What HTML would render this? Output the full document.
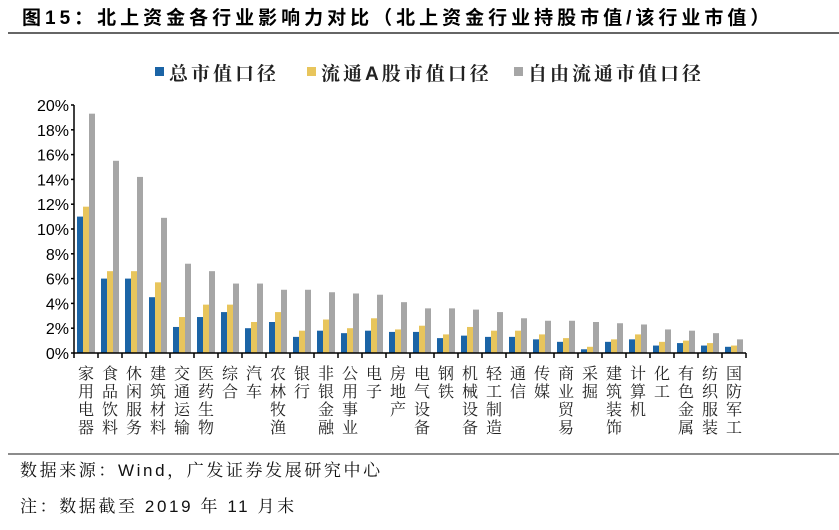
<!DOCTYPE html>
<html><head><meta charset="utf-8"><style>
body{margin:0;background:#fff;width:839px;height:525px;overflow:hidden;font-family:"Liberation Sans","Noto Sans CJK SC",sans-serif}
</style></head><body>
<svg width="839" height="525" xmlns="http://www.w3.org/2000/svg">
<text x="22" y="24" font-size="19" font-weight="bold" fill="#000" letter-spacing="4" font-family="Liberation Sans,Noto Sans CJK SC,sans-serif">图15：北上资金各行业影响力对比（北上资金行业持股市值/该行业市值）</text>
<line x1="8" y1="33" x2="839" y2="33" stroke="#333" stroke-width="1.5"/>
<g id="legend"></g>
<g id="yaxis"></g>
<g id="bars"></g>
<g id="xaxis"></g>
<line x1="8" y1="454" x2="839" y2="454" stroke="#666" stroke-width="1.5"/>
<text x="20" y="476" font-size="17" fill="#111" letter-spacing="2.6" font-family="Liberation Sans,Noto Serif CJK SC,serif">数据来源：Wind，广发证券发展研究中心</text>
<text x="20" y="512" font-size="17" fill="#111" letter-spacing="2.6" font-family="Liberation Sans,Noto Serif CJK SC,serif">注：数据截至 2019 年 11 月末</text>
</svg>
<script>
const categories=["家用电器","食品饮料","休闲服务","建筑材料","交通运输","医药生物","综合","汽车","农林牧渔","银行","非银金融","公用事业","电子","房地产","电气设备","钢铁","机械设备","轻工制造","通信","传媒","商业贸易","采掘","建筑装饰","计算机","化工","有色金属","纺织服装","国防军工"];
const totalCap=[11.0,6.0,6.0,4.5,2.1,2.9,3.3,2.0,2.5,1.3,1.8,1.6,1.8,1.7,1.7,1.2,1.4,1.3,1.3,1.1,0.9,0.3,0.9,1.1,0.6,0.8,0.6,0.5];
const floatA=[11.8,6.6,6.6,5.7,2.9,3.9,3.9,2.5,3.3,1.8,2.7,2.0,2.8,1.9,2.2,1.5,2.1,1.8,1.8,1.5,1.2,0.5,1.1,1.5,0.9,1.0,0.8,0.6];
const freeFloat=[19.3,15.5,14.2,10.9,7.2,6.6,5.6,5.6,5.1,5.1,4.9,4.8,4.7,4.1,3.6,3.6,3.5,3.3,2.8,2.6,2.6,2.5,2.4,2.3,1.9,1.8,1.6,1.1];
const yTicks=[0,2,4,6,8,10,12,14,16,18,20];
const seriesNames=["总市值口径","流通A股市值口径","自由流通市值口径"];
const colors=["#1b64a6","#e8c55c","#a6a6a6"];
const NS="http://www.w3.org/2000/svg";
const X0=74,X1=746,Y0=353,Y1=105;
const bw=(X1-X0)/categories.length;
const y=v=>Y0-(v/20)*(Y0-Y1);
const xc=i=>X0+bw*(i+0.5);
function el(t,a,p){const e=document.createElementNS(NS,t);for(const k in a)e.setAttribute(k,a[k]);p.appendChild(e);return e;}
const yg=document.getElementById('yaxis');
const l=el('line',{x1:X0,y1:Y1,x2:X0,y2:Y0,stroke:'#000','stroke-width':1.5},yg);


yTicks.forEach(t=>{
 const tk=el('line',{x1:X0-3,x2:X0,y1:y(t),y2:y(t),stroke:'#000','stroke-width':1.5},yg);
 
 
 const tx=el('text',{x:X0-5,y:y(t)+6,'text-anchor':'end','font-size':16,fill:'#000'},yg);
 tx.textContent=t+'%';
 
 
});
const bg=document.getElementById('bars');
const series=[totalCap,floatA,freeFloat];
const w=6;
series.forEach((s,si)=>{
 s.forEach((v,i)=>{
  const r=el('rect',{x:xc(i)-9+si*w,y:y(v),width:w,height:Y0-y(v),fill:colors[si]},bg);
  
  
 });
});
const xg=document.getElementById('xaxis');
const xl=el('line',{x1:X0,y1:Y0,x2:X1,y2:Y0,stroke:'#000','stroke-width':1.5},xg);


for(let i=0;i<=categories.length;i++){
 const tk=el('line',{x1:X0+bw*i,x2:X0+bw*i,y1:Y0,y2:Y0+5,stroke:'#000','stroke-width':1.5},xg);
 
 
}
categories.forEach((c,i)=>{
 const t=el('text',{x:xc(i),'text-anchor':'middle','font-size':16,fill:'#222','font-family':'Noto Serif CJK SC,serif'},xg);
 
 
 [...c].forEach((ch,k)=>{const s=el('tspan',{x:xc(i),y:379+k*18},t);s.textContent=ch;});
});
const lg=document.getElementById('legend');
const lx=[155,307,514];
seriesNames.forEach((n,i)=>{
 const r=el('rect',{x:lx[i],y:67,width:9,height:9,fill:colors[i]},lg);
 
 
 const t=el('text',{x:lx[i]+14,y:80,'font-size':19,'font-weight':'bold','letter-spacing':3,fill:'#222','font-family':'Liberation Sans,Noto Serif CJK SC,serif'},lg);
 t.textContent=n;
 
 
});
</script>
</body></html>
